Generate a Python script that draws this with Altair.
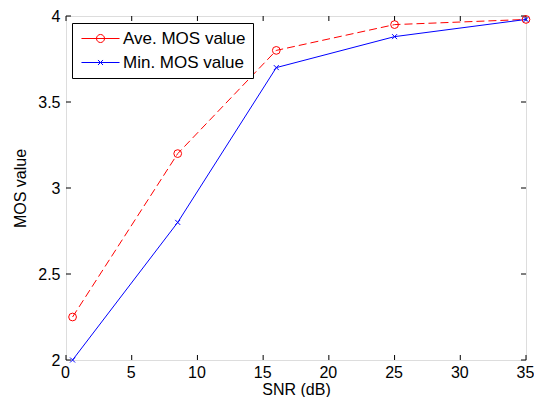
import altair as alt
import pandas as pd

# ---- data ----
snr = [0.5, 8.5, 16, 25, 35]
ave_mos = [2.25, 3.2, 3.8, 3.95, 3.98]
min_mos = [2.0, 2.8, 3.7, 3.88, 3.98]
series_names = ["Ave. MOS value", "Min. MOS value"]
x_ticks = [0, 5, 10, 15, 20, 25, 30, 35]
y_ticks = [2, 2.5, 3, 3.5, 4]

W, H = 460, 344
FONT = "Liberation Sans"
FS = 16

df = pd.DataFrame({
    "snr": snr + snr,
    "mos": ave_mos + min_mos,
    "series": [series_names[0]] * len(snr) + [series_names[1]] * len(snr),
})
xt = pd.DataFrame({"t": x_ticks})
yt = pd.DataFrame({"t": y_ticks})

xscale = alt.Scale(domain=[0, 35], nice=False, zero=False)
yscale = alt.Scale(domain=[2, 4], nice=False, zero=False)
xaxis = alt.Axis(values=x_ticks, format="d", title="SNR (dB)", ticks=False,
                 domain=False, grid=False, labelFontSize=FS, titleFontSize=FS,
                 labelPadding=4, titlePadding=1, labelFont=FONT, titleFont=FONT,
                 labelColor="black", titleColor="black", titleFontWeight="normal",
                 labelFlush=False, labelOffset=-1)
yaxis = alt.Axis(values=y_ticks, format="~g", title="MOS value", ticks=False,
                 domain=False, grid=False, labelFontSize=FS, titleFontSize=FS,
                 labelPadding=6, titlePadding=9, labelFont=FONT, titleFont=FONT,
                 labelColor="black", titleColor="black", titleFontWeight="normal",
                 labelFlush=False)

X = alt.X("snr:Q", scale=xscale, axis=xaxis)
Y = alt.Y("mos:Q", scale=yscale, axis=yaxis)

red, blue = "#ff0000", "#0000ff"
x_path = "M-1,-1L1,1M-1,1L1,-1"

ave_line = alt.Chart(df).transform_filter(alt.datum.series == series_names[0]).mark_line(
    color=red, strokeDash=[8, 4], strokeWidth=1).encode(x=X, y=Y)
ave_pts = alt.Chart(df).transform_filter(alt.datum.series == series_names[0]).mark_point(
    shape="circle", size=60, filled=False, color=red, strokeWidth=1, opacity=1).encode(x=X, y=Y)
min_line = alt.Chart(df).transform_filter(alt.datum.series == series_names[1]).mark_line(
    color=blue, strokeWidth=1).encode(x=X, y=Y)
min_pts = alt.Chart(df).transform_filter(alt.datum.series == series_names[1]).mark_point(
    shape=x_path, size=25, filled=False, color=blue, strokeWidth=1, opacity=1).encode(x=X, y=Y)

# inward tick marks on all four sides
XT = alt.X("t:Q", scale=xscale, axis=xaxis)
YT = alt.Y("t:Q", scale=yscale, axis=yaxis)
tick_b = alt.Chart(xt).mark_rule(color="black", strokeWidth=1).encode(
    x=XT, y=alt.value(H), y2=alt.value(H - 5))
tick_t = alt.Chart(xt).mark_rule(color="black", strokeWidth=1).encode(
    x=XT, y=alt.value(0), y2=alt.value(5))
tick_l = alt.Chart(yt).mark_rule(color="black", strokeWidth=1).encode(
    y=YT, x=alt.value(0), x2=alt.value(5))
tick_r = alt.Chart(yt).mark_rule(color="black", strokeWidth=1).encode(
    y=YT, x=alt.value(W), x2=alt.value(W - 5))

# legend (line + marker symbols)
leg_circle = "M-3.17,0H3.17M-0.67,0A0.67,0.67,0,1,1,0.67,0A0.67,0.67,0,1,1,-0.67,0"
leg_x = "M-3.17,0H3.17M-0.42,-0.42L0.42,0.42M-0.42,0.42L0.42,-0.42"
legend = alt.Legend(title=None, orient="none", legendX=6, legendY=7, padding=7,
                    strokeColor="black", fillColor="white", symbolSize=144,
                    symbolStrokeWidth=1, symbolOffset=13, labelOffset=14,
                    labelFontSize=17, labelFont=FONT, labelColor="black",
                    rowPadding=6, labelLimit=300, cornerRadius=0)
leg_layer = alt.Chart(df).transform_filter("false").mark_point(
    filled=False, strokeWidth=1, opacity=1).encode(
    x=X, y=Y,
    color=alt.Color("series:N", scale=alt.Scale(domain=series_names, range=[red, blue]), legend=legend),
    shape=alt.Shape("series:N", scale=alt.Scale(domain=series_names, range=[leg_circle, leg_x]), legend=legend),
)

chart = alt.layer(
    tick_b, tick_t, tick_l, tick_r, ave_line, min_line, ave_pts, min_pts, leg_layer
).properties(
    width=W, height=H,
    autosize=alt.AutoSizeParams(type="none"),
    padding={"left": 58, "top": 8, "right": 8, "bottom": 37},
).configure_view(
    stroke="black", strokeWidth=1
).configure(background="white")

chart.save("out.html", embed_options={"renderer": "svg", "actions": False})
